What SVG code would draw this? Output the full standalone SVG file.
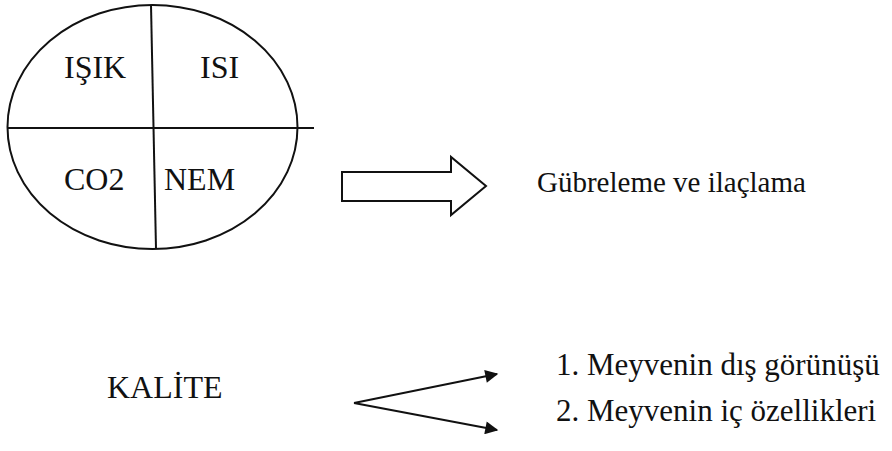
<svg xmlns="http://www.w3.org/2000/svg" width="892" height="451" viewBox="0 0 892 451">
<defs>
<style>
.t{font-family:"Liberation Serif","Times New Roman",serif;fill:#111}
.q{font-size:32px}
.g{font-size:29px}
.m{font-size:31px}
.s{fill:none;stroke:#111;stroke-width:2}
</style>
<marker id="ah" viewBox="0 0 10 10" refX="9" refY="5" markerWidth="7.5" markerHeight="6.5" orient="auto" markerUnits="strokeWidth"><path d="M0,0 L10,5 L0,10 z" fill="#111"/></marker>
</defs>
<rect width="892" height="451" fill="#fff"/>
<g id="factors">
<ellipse class="s" cx="152.5" cy="127" rx="145" ry="122"/>
<line class="s" x1="151" y1="5" x2="156" y2="249"/>
<line class="s" x1="8" y1="128" x2="314" y2="128"/>
<text class="t q" x="64" y="78">IŞIK</text>
<text class="t q" x="200" y="78">ISI</text>
<text class="t q" x="64" y="190">CO2</text>
<text class="t q" x="164" y="190">NEM</text>
</g>
<g id="result">
<text class="t g" x="537" y="192">Gübreleme ve ilaçlama</text>
</g>
<g id="kalite">
<text class="t q" x="107" y="398">KALİTE</text>
</g>
<g id="item1"><text class="t m" x="556" y="375">1. Meyvenin dış görünüşü</text></g>
<g id="item2"><text class="t m" x="556" y="421">2. Meyvenin iç özellikleri</text></g>
<g id="connectors">
<path class="s" d="M342,172 L451,172 L451,157 L486,186 L451,215 L451,201 L342,201 Z" stroke-linejoin="miter"/>
<line class="s" x1="354" y1="403" x2="497" y2="374" marker-end="url(#ah)"/>
<line class="s" x1="354" y1="403" x2="497" y2="430" marker-end="url(#ah)"/>
</g>
</svg>
